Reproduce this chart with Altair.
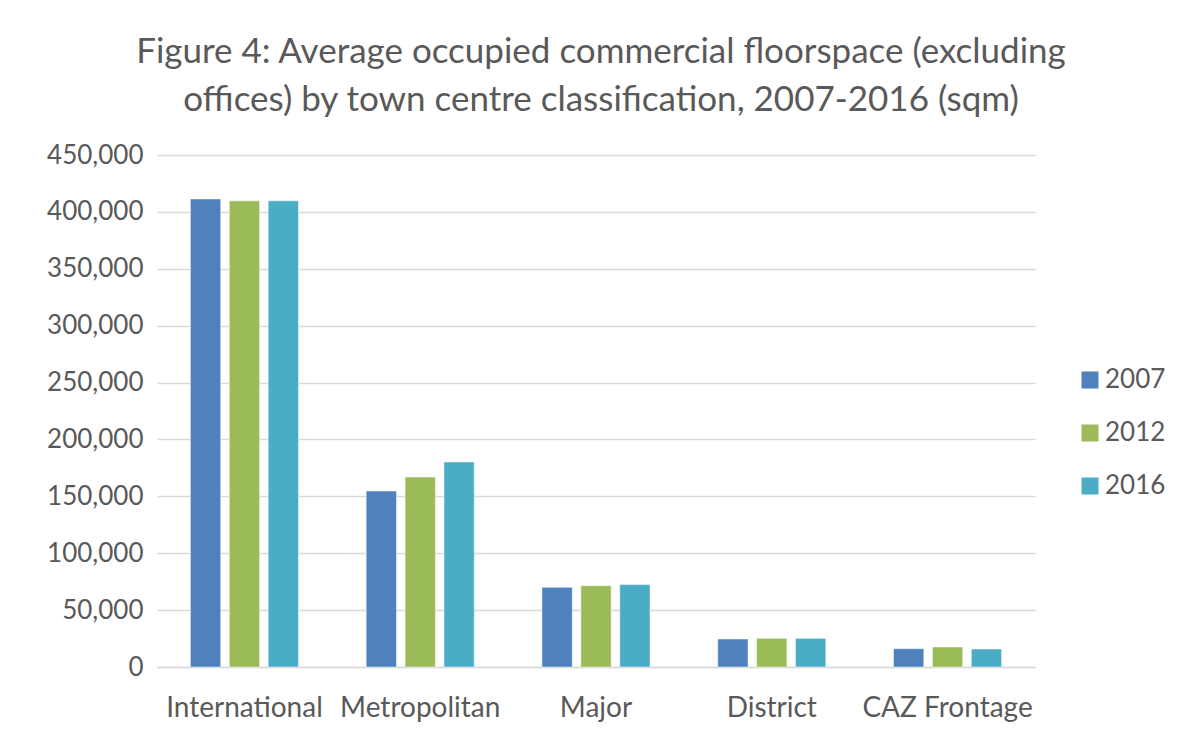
import altair as alt
import pandas as pd

categories = ["International", "Metropolitan", "Major", "District", "CAZ Frontage"]
years = ["2007", "2012", "2016"]
v2007 = [411400, 154700, 70000, 24600, 16100]
v2012 = [409700, 167000, 71500, 25200, 17600]
v2016 = [409700, 180200, 72400, 25200, 15800]
colors = ["#4F81BD", "#9BBB59", "#4BACC6"]

rows = []
for i, c in enumerate(categories):
    for y, vals in zip(years, [v2007, v2012, v2016]):
        rows.append({"cat": c, "year": y, "value": vals[i]})
df = pd.DataFrame(rows)

FONT = "Lato"
TXT = "#595959"

chart = alt.Chart(df).mark_bar(stroke="white", strokeWidth=0.5).encode(
    x=alt.X("cat:N", sort=categories, title=None,
            scale=alt.Scale(paddingInner=0.385, paddingOuter=0.19),
            axis=alt.Axis(labelAngle=0, labelFontSize=28, labelColor=TXT, labelFont=FONT,
                          ticks=False, domainColor="#D9D9D9", domainWidth=1.5,
                          labelPadding=27, labelOverlap=False, labelLimit=0)),
    xOffset=alt.XOffset("year:N", sort=years, scale=alt.Scale(paddingInner=0.22)),
    y=alt.Y("value:Q", title=None,
            scale=alt.Scale(domain=[0, 450000]),
            axis=alt.Axis(values=list(range(0, 450001, 50000)), format=",.0f",
                          labelFontSize=26, labelColor=TXT, labelFont=FONT,
                          ticks=False, domain=False, gridColor="#D9D9D9", gridWidth=1.5,
                          labelPadding=14)),
    color=alt.Color("year:N", sort=years,
                    scale=alt.Scale(domain=years, range=colors),
                    legend=alt.Legend(title=None, orient="none", legendX=920, legendY=212,
                                      symbolType="square", symbolSize=289,
                                      labelFontSize=26, labelColor=TXT, labelFont=FONT,
                                      rowPadding=27, labelOffset=2, symbolStrokeWidth=0)),
).properties(
    width=878, height=512,
    title=alt.TitleParams(["Figure 4: Average occupied commercial floorspace (excluding",
                           "offices) by town centre classification, 2007-2016 (sqm)"],
                          font=FONT, fontSize=35, fontWeight="normal", color=TXT,
                          anchor="middle", lineHeight=48, offset=24, dx=5),
    padding={"left": 149, "top": 147, "right": 150, "bottom": 60},
    autosize=alt.AutoSizeParams(type="none"),
).configure_view(stroke=None)

chart.save("out.html", embed_options={"renderer": "svg", "actions": False})
